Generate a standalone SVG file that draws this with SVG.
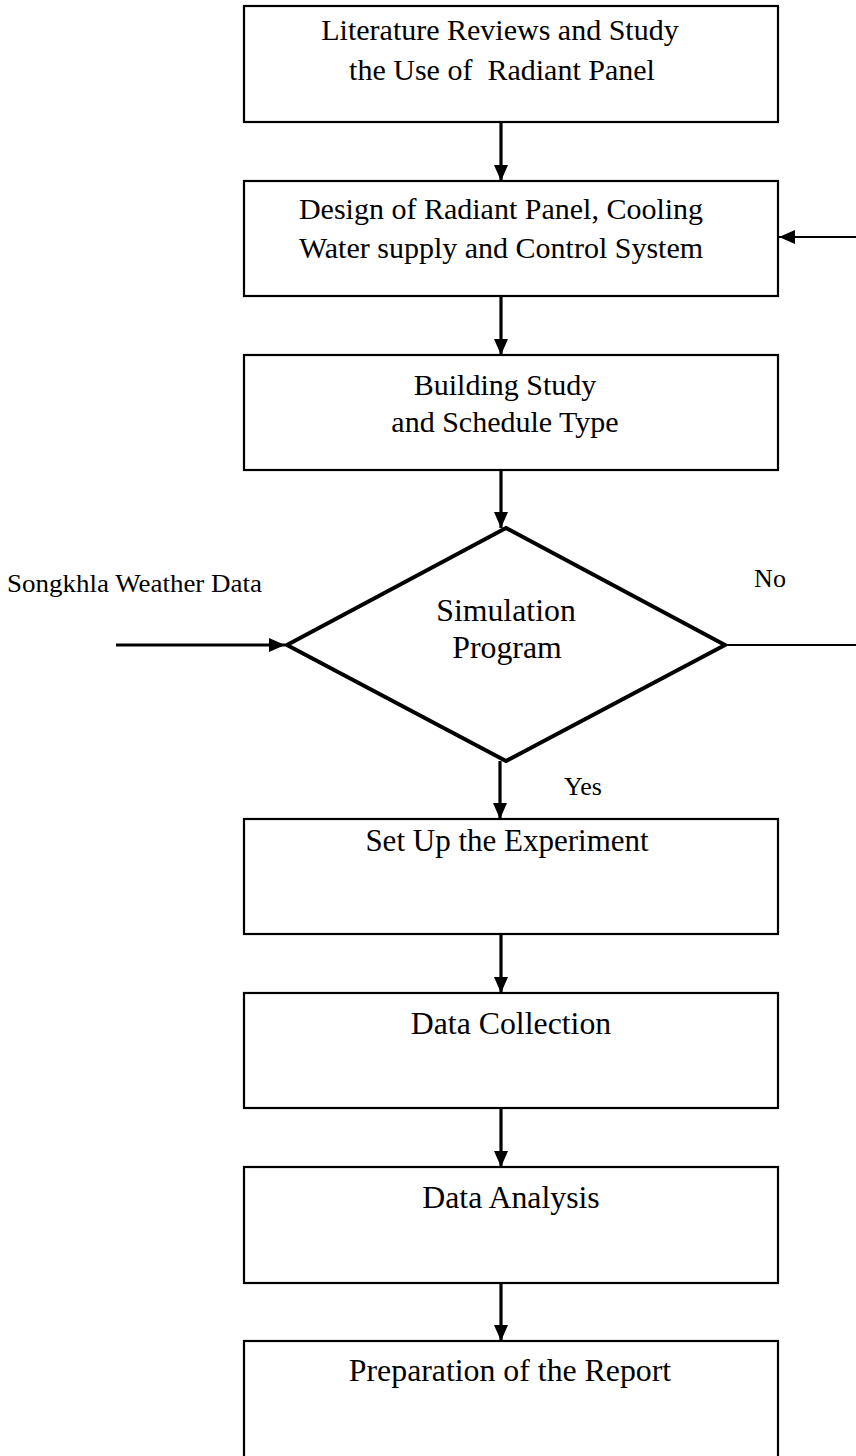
<svg xmlns="http://www.w3.org/2000/svg" width="856" height="1456" viewBox="0 0 856 1456">
<style>
.box{fill:#fff;stroke:#000;stroke-width:2.2}
.dia{fill:#fff;stroke:#000;stroke-width:4}
.t{font-family:"Liberation Serif","Times New Roman",serif;font-size:30px;fill:#000;text-anchor:middle}
.l{font-size:31.8px}
.s{font-family:"Liberation Serif","Times New Roman",serif;font-size:26px;fill:#000}
.c{stroke:#000;fill:none}
.thick{stroke-width:3.2}
.thin{stroke-width:2}
</style>
<defs>
<marker id="ah" viewBox="0 0 16 14" refX="16" refY="7" markerWidth="16" markerHeight="14" markerUnits="userSpaceOnUse" orient="auto">
<path d="M0,0 L16,7 L0,14 z" fill="#000"/>
</marker>
</defs>
<rect width="856" height="1456" fill="#fff"/>
<g id="n1">
<rect class="box" x="244" y="6" width="534" height="116"/>
<text class="t" x="500" y="40">Literature Reviews and Study</text>
<text class="t" x="502" y="80" xml:space="preserve">the Use of  Radiant Panel</text>
</g>
<g id="n2">
<rect class="box" x="244" y="181" width="534" height="115"/>
<text class="t" x="501" y="219">Design of Radiant Panel, Cooling</text>
<text class="t" x="501" y="258">Water supply and Control System</text>
</g>
<g id="n3">
<rect class="box" x="244" y="355" width="534" height="115"/>
<text class="t" x="505" y="395">Building Study</text>
<text class="t" x="505" y="432">and Schedule Type</text>
</g>
<g id="n4">
<polygon class="dia" points="506,528 725,645 506,761 287,645"/>
<text class="t l" x="506" y="621">Simulation</text>
<text class="t l" x="507" y="658">Program</text>
</g>
<g id="n5">
<rect class="box" x="244" y="819" width="534" height="115"/>
<text class="t" x="507" y="851" style="font-size:31px">Set Up the Experiment</text>
</g>
<g id="n6">
<rect class="box" x="244" y="993" width="534" height="115"/>
<text class="t l" x="511" y="1034">Data Collection</text>
</g>
<g id="n7">
<rect class="box" x="244" y="1167" width="534" height="116"/>
<text class="t l" x="511" y="1208">Data Analysis</text>
</g>
<g id="n8">
<rect class="box" x="244" y="1341" width="534" height="130"/>
<text class="t l" x="510" y="1381">Preparation of the Report</text>
</g>
<g id="labels">
<text class="s" x="7" y="592" textLength="255" lengthAdjust="spacingAndGlyphs">Songkhla Weather Data</text>
<text class="s" x="770" y="587" text-anchor="middle">No</text>
<text class="s" x="583" y="795" text-anchor="middle">Yes</text>
</g>
<g id="connectors">
<line class="c thick" x1="501" y1="122" x2="501" y2="181" marker-end="url(#ah)"/>
<line class="c thick" x1="501" y1="296" x2="501" y2="355" marker-end="url(#ah)"/>
<line class="c thick" x1="501" y1="470" x2="501" y2="528" marker-end="url(#ah)"/>
<line class="c thick" x1="500" y1="761" x2="500" y2="819" marker-end="url(#ah)"/>
<line class="c thick" x1="501" y1="934" x2="501" y2="993" marker-end="url(#ah)"/>
<line class="c thick" x1="501" y1="1108" x2="501" y2="1167" marker-end="url(#ah)"/>
<line class="c thick" x1="501" y1="1283" x2="501" y2="1341" marker-end="url(#ah)"/>
<line class="c thick" x1="116" y1="645" x2="285" y2="645" marker-end="url(#ah)"/>
<line class="c thin" x1="725" y1="645" x2="856" y2="645"/>
<line class="c thin" x1="856" y1="237" x2="779" y2="237" marker-end="url(#ah)"/>
</g>
</svg>
